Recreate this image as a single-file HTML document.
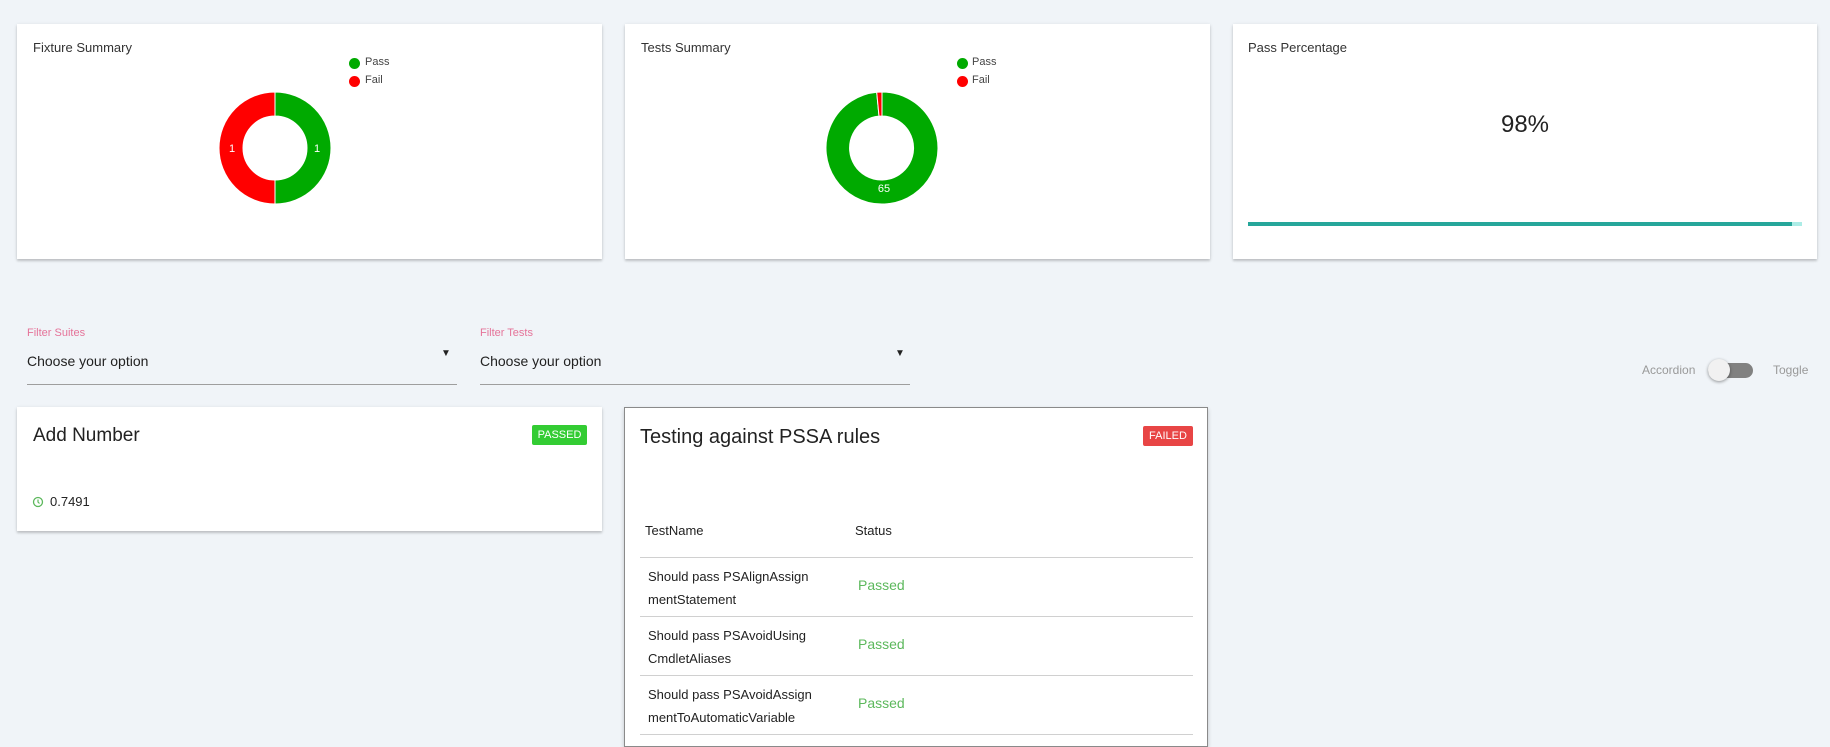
<!DOCTYPE html>
<html><head><meta charset="utf-8"><style>
*{margin:0;padding:0;box-sizing:border-box}
body{width:1830px;height:738px;background:#f0f4f8;font-family:"Liberation Sans",sans-serif;color:#222;position:relative;overflow:hidden}
.a{position:absolute;white-space:nowrap}
.card{position:absolute;background:#fff;box-shadow:0 2px 2px rgba(0,0,0,.14),0 1px 4px rgba(0,0,0,.12)}
.t{font-size:13px;color:#333}
.lg{font-size:11px;color:#444}
.dot{position:absolute;width:11px;height:11px;border-radius:50%}
.badge{position:absolute;color:#fff;font-size:11px;text-align:center;border-radius:2px;line-height:20px}
.row{position:absolute;left:640px;width:553px;height:1px;background:#d0d0d0}
.cell{font-size:13px;color:#222;line-height:23px}
.ps{font-size:14px;color:#5cb85c}
</style></head><body>

<div class="card" style="left:17px;top:24px;width:585px;height:235px"></div>
<div class="card" style="left:625px;top:24px;width:585px;height:235px"></div>
<div class="card" style="left:1233px;top:24px;width:584px;height:235px"></div>

<div class="a t" style="left:33px;top:40px">Fixture Summary</div>
<div class="a t" style="left:641px;top:40px">Tests Summary</div>
<div class="a t" style="left:1248px;top:40px">Pass Percentage</div>

<div class="dot" style="left:349px;top:58px;background:#00aa00"></div>
<div class="a lg" style="left:365px;top:56px">Pass</div>
<div class="dot" style="left:349px;top:76px;background:#ff0000"></div>
<div class="a lg" style="left:365px;top:74px">Fail</div>
<div class="dot" style="left:957px;top:58px;background:#00aa00"></div>
<div class="a lg" style="left:972px;top:56px">Pass</div>
<div class="dot" style="left:957px;top:76px;background:#ff0000"></div>
<div class="a lg" style="left:972px;top:74px">Fail</div>

<svg class="a" style="left:0;top:0" width="1830" height="270">
<path d="M275 92 A56 56 0 0 1 275 204 L275 180 A32 32 0 0 0 275 116 Z" fill="#00aa00" stroke="#fff" stroke-width="1"/>
<path d="M275 204 A56 56 0 0 1 275 92 L275 116 A32 32 0 0 0 275 180 Z" fill="#ff0000" stroke="#fff" stroke-width="1"/>
<text x="232" y="152" fill="#fff" font-size="11" text-anchor="middle" font-family="Liberation Sans">1</text>
<text x="317" y="152" fill="#fff" font-size="11" text-anchor="middle" font-family="Liberation Sans">1</text>
<path d="M882 92 A56 56 0 1 1 876.7 92.25 L879 116.1 A32 32 0 1 0 882 116 Z" fill="#00aa00" stroke="#fff" stroke-width="1"/>
<path d="M876.7 92.25 A56 56 0 0 1 882 92 L882 116 A32 32 0 0 0 879 116.1 Z" fill="#ff0000" stroke="#fff" stroke-width="1"/>
<text x="884" y="192" fill="#fff" font-size="11" text-anchor="middle" font-family="Liberation Sans">65</text>
</svg>

<div class="a" style="left:1425px;top:111px;width:200px;text-align:center;font-size:24px;color:#222">98%</div>
<div class="a" style="left:1248px;top:222px;width:554px;height:4px;background:#acece6"></div>
<div class="a" style="left:1248px;top:222px;width:544px;height:4px;background:#26a69a"></div>

<div class="a" style="left:27px;top:327px;font-size:11px;color:#e57399">Filter Suites</div>
<div class="a" style="left:27px;top:353px;font-size:14px">Choose your option</div>
<div class="a" style="left:441px;top:348px;font-size:10px">&#9660;</div>
<div class="a" style="left:27px;top:384px;width:430px;height:1px;background:#9e9e9e"></div>
<div class="a" style="left:480px;top:327px;font-size:11px;color:#e57399">Filter Tests</div>
<div class="a" style="left:480px;top:353px;font-size:14px">Choose your option</div>
<div class="a" style="left:895px;top:348px;font-size:10px">&#9660;</div>
<div class="a" style="left:480px;top:384px;width:430px;height:1px;background:#9e9e9e"></div>

<div class="a" style="left:1642px;top:363px;font-size:12px;color:#999">Accordion</div>
<div class="a" style="left:1708px;top:363px;width:45px;height:15px;border-radius:8px;background:#818181"></div>
<div class="a" style="left:1708px;top:359px;width:22px;height:22px;border-radius:50%;background:#f1f1f1;box-shadow:0 1px 3px rgba(0,0,0,.4)"></div>
<div class="a" style="left:1773px;top:363px;font-size:12px;color:#999">Toggle</div>

<div class="card" style="left:17px;top:407px;width:585px;height:124px"></div>
<div class="a" style="left:33px;top:425px;font-size:19px">Add Number</div>
<div class="badge" style="left:532px;top:425px;width:55px;background:#33cc33">PASSED</div>
<svg class="a" style="left:32px;top:496px" width="12" height="12"><circle cx="6" cy="6" r="4.5" fill="none" stroke="#5cb85c" stroke-width="1.3"/><path d="M6 3.5V6L7.5 7.5" fill="none" stroke="#5cb85c" stroke-width="1.2"/></svg>
<div class="a" style="left:50px;top:494px;font-size:13px">0.7491</div>

<div class="card" style="left:624px;top:407px;width:584px;height:340px;border:1px solid #8a8a8a;box-shadow:0 2px 4px rgba(0,0,0,.2)"></div>
<div class="a" style="left:640px;top:426px;font-size:20px">Testing against PSSA rules</div>
<div class="badge" style="left:1143px;top:426px;width:50px;background:#e84545">FAILED</div>
<div class="a" style="left:645px;top:523px;font-size:13px">TestName</div>
<div class="a" style="left:855px;top:523px;font-size:13px">Status</div>
<div class="row" style="top:557px"></div>
<div class="a cell" style="left:648px;top:565px">Should pass PSAlignAssign<br>mentStatement</div>
<div class="a ps" style="left:858px;top:577px">Passed</div>
<div class="row" style="top:616px"></div>
<div class="a cell" style="left:648px;top:624px">Should pass PSAvoidUsing<br>CmdletAliases</div>
<div class="a ps" style="left:858px;top:636px">Passed</div>
<div class="row" style="top:675px"></div>
<div class="a cell" style="left:648px;top:683px">Should pass PSAvoidAssign<br>mentToAutomaticVariable</div>
<div class="a ps" style="left:858px;top:695px">Passed</div>
<div class="row" style="top:734px"></div>
</body></html>
